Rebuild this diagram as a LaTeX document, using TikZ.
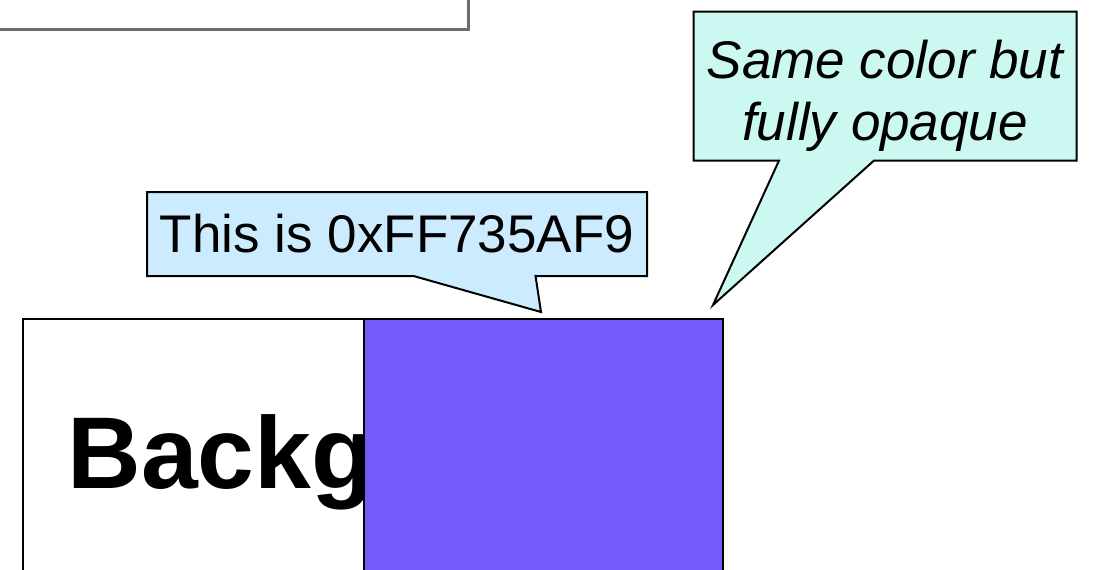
\documentclass[tikz,border=0pt]{standalone}
\usepackage{xcolor}
\usepackage{tikz}
\usepackage{fontspec}
\setmainfont{Liberation Sans}
\usetikzlibrary{shapes.callouts}
\definecolor{tipblue}{HTML}{CCEBFF}
\definecolor{tipaqua}{HTML}{CCF8F2}
\definecolor{argb}{HTML}{735AF9}

\begin{document}
\begin{tikzpicture}[x=1pt, y=-1pt,
    tip/.style={draw, line width=2pt, rectangle callout, inner sep=0pt, align=center},
    plate/.style={draw, line width=1.6pt, minimum height=300pt, anchor=north west}]
    % Define frame
    \useasboundingbox (0,0) rectangle (1093,570);
    \clip (0,0) rectangle (1093,570);

    % Define boxes
    \node[draw=gray!85!black, line width=3pt, minimum width=500pt, minimum height=60pt, anchor=south east] (prev) at (470,31) {};
    \node[plate, fill=white, minimum width=700pt] (bg) at (22,318) {};
    \node[anchor=base west, font=\fontsize{102}{102}\selectfont\bfseries] (word) at (64,488) {Background};
    \node[plate, fill=argb, minimum width=359pt] (square) at (363,318) {};

    % Define callouts
    \coordinate (tipA) at (541,312);
    \coordinate (tipB) at (713,305);
    \node[tip, fill=tipblue, minimum width=500pt, minimum height=84pt,
          callout absolute pointer={(tipA)}, callout pointer width=122pt,
          font=\fontsize{53}{62}\selectfont] (hex) at (397,234) {This is 0xFF735AF9};
    \node[tip, fill=tipaqua, minimum width=383pt, minimum height=149pt, text height=119pt,
          callout absolute pointer={(tipB)}, callout pointer width=95pt,
          font=\fontsize{53}{62}\selectfont\itshape] (same) at (885,86) {Same color but\\fully opaque};
\end{tikzpicture}
\end{document}
